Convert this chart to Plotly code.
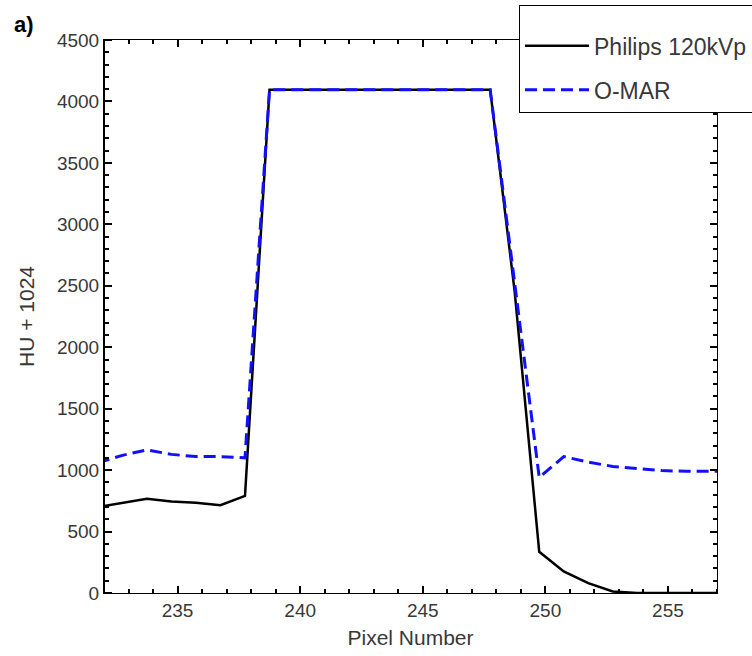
import plotly.graph_objects as go

# Data
pixel = [231.75, 232.75, 233.75, 234.75, 235.75, 236.75, 237.75, 238.75, 239.75, 240.75,
         241.75, 242.75, 243.75, 244.75, 245.75, 246.75, 247.75, 248.75, 249.75, 250.75,
         251.75, 252.75, 253.75, 254.75, 255.75, 256.75, 257.75]
philips = [700, 735, 767, 745, 735, 715, 790, 4095, 4095, 4095,
           4095, 4095, 4095, 4095, 4095, 4095, 4095, 2450, 335, 175,
           80, 12, 0, 0, 0, 0, 0]
omar = [1060, 1120, 1165, 1128, 1110, 1110, 1100, 4095, 4095, 4095,
        4095, 4095, 4095, 4095, 4095, 4095, 4095, 2520, 940, 1110,
        1065, 1030, 1012, 996, 990, 990, 990]

series_names = ["Philips 120kVp", "O-MAR"]
x_range = [232, 257]
y_range = [0, 4500]

FONT = "Liberation Sans, Arial, sans-serif"
TXT = "#383838"

fig = go.Figure()
fig.add_trace(go.Scatter(
    x=pixel, y=philips, mode="lines", name=series_names[0],
    line=dict(color="black", width=2.5), legendgroup="a"))
fig.add_trace(go.Scatter(
    x=pixel, y=omar, mode="lines", name=series_names[1],
    line=dict(color="#1010ff", width=3, dash="12px,6px"), legendgroup="b"))
# empty helper traces so the extra tick-only axes exist
fig.add_trace(go.Scatter(x=[], y=[], xaxis="x2", yaxis="y2", showlegend=False,
                         hoverinfo="skip"))
fig.add_trace(go.Scatter(x=[], y=[], xaxis="x3", yaxis="y3", showlegend=False,
                         hoverinfo="skip"))

def tick_style(dtick, tick0, mdtick, mtick0, direction):
    return dict(
        tickmode="linear", tick0=tick0, dtick=dtick,
        showgrid=False, zeroline=False, showline=True, linecolor="black", linewidth=1,
        ticks=direction, tickcolor="black", ticklen=7, tickwidth=1.5,
        showticklabels=False, layer="above traces",
        minor=dict(ticks=direction, tickmode="linear", tick0=mtick0, dtick=mdtick,
                   ticklen=4, tickcolor="black", tickwidth=1.5, showgrid=False),
    )

label_style = dict(
    tickmode="linear", showgrid=False, zeroline=False, showline=True,
    linecolor="black", linewidth=1, ticks="", showticklabels=True,
    tickfont=dict(family=FONT, size=19, color=TXT),
)

fig.update_layout(
    xaxis=dict(range=x_range, anchor="y", side="bottom", tick0=235, dtick=5,
               title=dict(text="Pixel Number", font=dict(family=FONT, size=21, color=TXT),
                          standoff=10),
               **label_style),
    yaxis=dict(range=y_range, anchor="x", side="left", tick0=0, dtick=500,
               title=dict(text="HU + 1024", font=dict(family=FONT, size=21, color=TXT),
                          standoff=16),
               **label_style),
    # top and right tick rows (inside)
    xaxis2=dict(range=x_range, anchor="y2", side="top", overlaying="x",
                **tick_style(5, 235, 1, 232, "inside")),
    yaxis2=dict(range=y_range, anchor="x2", side="right", overlaying="y",
                **tick_style(500, 0, 100, 0, "inside")),
    # bottom and left tick rows: opposite-side axes placed on the bottom/left edge,
    # with outward ticks that point into the plot
    xaxis3=dict(range=x_range, anchor="free", position=0, side="top", overlaying="x",
                **tick_style(5, 235, 1, 232, "outside")),
    yaxis3=dict(range=y_range, anchor="free", position=0, side="right", overlaying="y",
                **tick_style(500, 0, 100, 0, "outside")),
)

fig.update_layout(
    width=752, height=656,
    margin=dict(l=104, r=35, t=40, b=63, autoexpand=False),
    paper_bgcolor="white", plot_bgcolor="rgba(0,0,0,0)",
    showlegend=True,
    legend=dict(
        x=0.677, xanchor="left", y=1.063, yanchor="top",
        bgcolor="white", bordercolor="black", borderwidth=1,
        font=dict(family=FONT, size=23, color=TXT),
        title=dict(text=" ", font=dict(size=14)),
        itemwidth=64, tracegroupgap=11, traceorder="grouped",
    ),
    annotations=[dict(
        text="<b>a)</b>", x=0.0, y=1.0, xref="paper", yref="paper",
        xshift=-92, yshift=16, showarrow=False, xanchor="left", yanchor="middle",
        font=dict(family=FONT, size=22, color="black"))],
)

fig.write_html("out.html")
